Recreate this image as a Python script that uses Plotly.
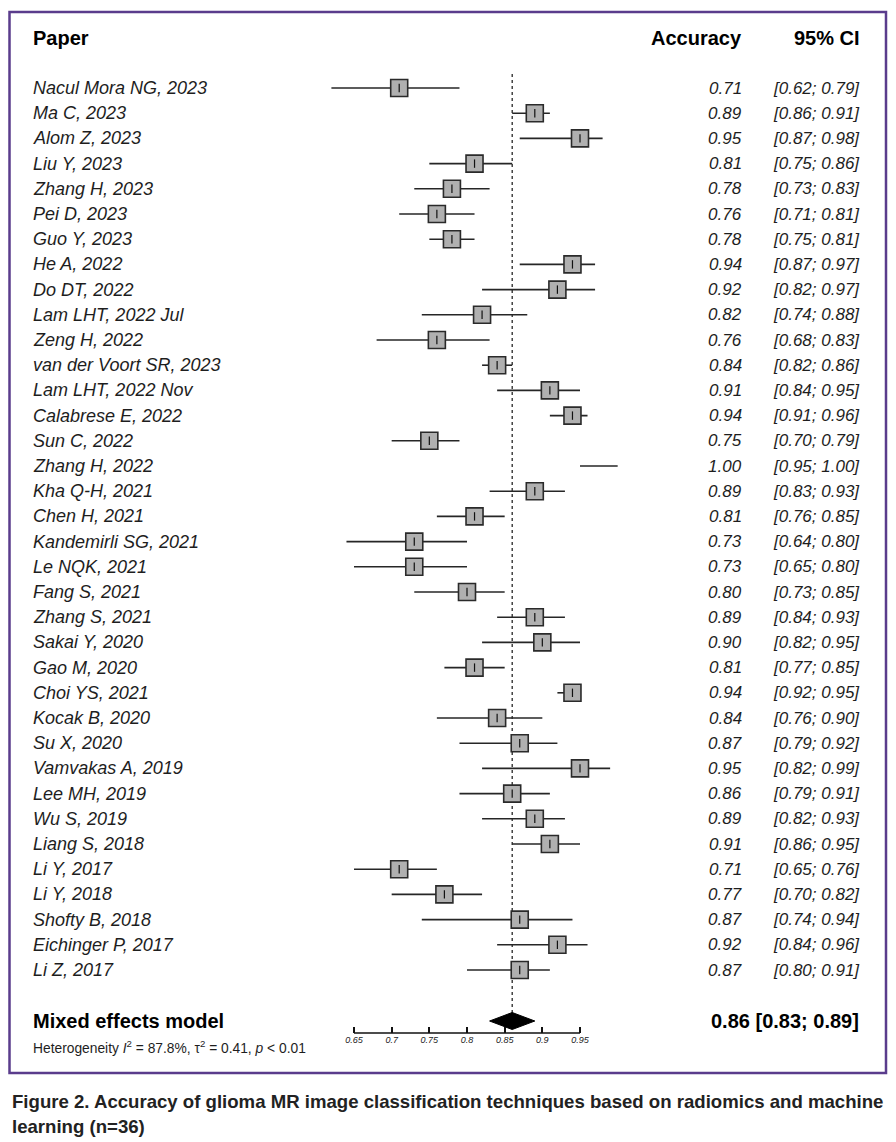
import plotly.graph_objects as go

# ---------------- data ----------------
studies = [
    "Nacul Mora NG, 2023", "Ma C, 2023", "Alom Z, 2023", "Liu Y, 2023", "Zhang H, 2023",
    "Pei D, 2023", "Guo Y, 2023", "He A, 2022", "Do DT, 2022", "Lam LHT, 2022 Jul",
    "Zeng H, 2022", "van der Voort SR, 2023", "Lam LHT, 2022 Nov", "Calabrese E, 2022",
    "Sun C, 2022", "Zhang H, 2022", "Kha Q-H, 2021", "Chen H, 2021", "Kandemirli SG, 2021",
    "Le NQK, 2021", "Fang S, 2021", "Zhang S, 2021", "Sakai Y, 2020", "Gao M, 2020",
    "Choi YS, 2021", "Kocak B, 2020", "Su X, 2020", "Vamvakas A, 2019", "Lee MH, 2019",
    "Wu S, 2019", "Liang S, 2018", "Li Y, 2017", "Li Y, 2018", "Shofty B, 2018",
    "Eichinger P, 2017", "Li Z, 2017",
]
accuracy = [0.71, 0.89, 0.95, 0.81, 0.78, 0.76, 0.78, 0.94, 0.92, 0.82, 0.76, 0.84, 0.91, 0.94,
            0.75, 1.00, 0.89, 0.81, 0.73, 0.73, 0.80, 0.89, 0.90, 0.81, 0.94, 0.84, 0.87, 0.95,
            0.86, 0.89, 0.91, 0.71, 0.77, 0.87, 0.92, 0.87]
ci_low = [0.62, 0.86, 0.87, 0.75, 0.73, 0.71, 0.75, 0.87, 0.82, 0.74, 0.68, 0.82, 0.84, 0.91,
          0.70, 0.95, 0.83, 0.76, 0.64, 0.65, 0.73, 0.84, 0.82, 0.77, 0.92, 0.76, 0.79, 0.82,
          0.79, 0.82, 0.86, 0.65, 0.70, 0.74, 0.84, 0.80]
ci_high = [0.79, 0.91, 0.98, 0.86, 0.83, 0.81, 0.81, 0.97, 0.97, 0.88, 0.83, 0.86, 0.95, 0.96,
           0.79, 1.00, 0.93, 0.85, 0.80, 0.80, 0.85, 0.93, 0.95, 0.85, 0.95, 0.90, 0.92, 0.99,
           0.91, 0.93, 0.95, 0.76, 0.82, 0.94, 0.96, 0.91]
pooled_est, pooled_low, pooled_high = 0.86, 0.83, 0.89
tick_values = [0.65, 0.70, 0.75, 0.80, 0.85, 0.90, 0.95]
tick_labels = ["0.65", "0.7", "0.75", "0.8", "0.85", "0.9", "0.95"]
heterogeneity = "Heterogeneity <i>I</i><sup>2</sup> = 87.8%, τ<sup>2</sup> = 0.41, <i>p</i> < 0.01"
caption_lines = [
    "Figure 2. Accuracy of glioma MR image classification techniques based on radiomics and machine",
    "learning (n=36)",
]

# ---------------- geometry ----------------
W, H = 896, 1142
PX0, PX1 = 354.0, 580.0          # pixel positions of 0.65 and 0.95
ppu = (PX1 - PX0) / 0.30
x_left = 0.65 - PX0 / ppu
x_right = 0.65 + (W - PX0) / ppu
ROW0, ROWH = 88.0, 25.2          # pixel y of first row, row spacing


def row_of(py):
    return (py - ROW0) / ROWH


y_top = row_of(0)
y_bot = row_of(H)
n = len(studies)
rows = list(range(n))

FONT = "Liberation Sans, Arial, sans-serif"
DARK = "#1e1e1e"

fig = go.Figure()

# CI lines
lx, ly = [], []
for i in rows:
    lx += [ci_low[i], ci_high[i], None]
    ly += [i, i, None]
fig.add_trace(go.Scatter(x=lx, y=ly, mode="lines", line=dict(color="#262626", width=1.6),
                         hoverinfo="skip", showlegend=False))

# pooled dotted line
fig.add_trace(go.Scatter(x=[pooled_est, pooled_est], y=[row_of(74), row_of(1013)], mode="lines",
                         line=dict(color="#262626", width=1.3, dash="dot"),
                         hoverinfo="skip", showlegend=False))

# boxes
bx = [accuracy[i] for i in rows if accuracy[i] < 1.0]
by = [i for i in rows if accuracy[i] < 1.0]
fig.add_trace(go.Scatter(x=bx, y=by, mode="markers",
                         marker=dict(symbol="square", size=17, color="#b0b0b0",
                                     line=dict(color="#2a2a2a", width=1.6)),
                         hoverinfo="skip", showlegend=False, cliponaxis=False))
fig.add_trace(go.Scatter(x=bx, y=by, mode="markers",
                         marker=dict(symbol="line-ns", size=6,
                                     line=dict(color="#111111", width=1.2)),
                         hoverinfo="skip", showlegend=False, cliponaxis=False))

# summary diamond
yd = row_of(1021)
hd = 8.5 / ROWH
fig.add_trace(go.Scatter(x=[pooled_low, pooled_est, pooled_high, pooled_est, pooled_low],
                         y=[yd, yd - hd, yd, yd + hd, yd], mode="lines", fill="toself",
                         fillcolor="black", line=dict(color="black", width=1),
                         hoverinfo="skip", showlegend=False))

# axis line
ya = row_of(1033)
fig.add_trace(go.Scatter(x=[tick_values[0], tick_values[-1]], y=[ya, ya], mode="lines",
                         line=dict(color="#111111", width=1.5),
                         hoverinfo="skip", showlegend=False))

ann = []
# header
yh = row_of(38)
ann.append(dict(text="<b>Paper</b>", x=31 / W, xanchor="left", y=yh,
                font=dict(size=20, color="black")))
ann.append(dict(text="<b>Accuracy</b>", x=744 / W, xanchor="right", y=yh,
                font=dict(size=20, color="black")))
ann.append(dict(text="<b>95% CI</b>", x=862 / W, xanchor="right", y=yh,
                font=dict(size=20, color="black")))

for i in rows:
    ann.append(dict(text=studies[i], x=31 / W, xanchor="left", y=i,
                    font=dict(size=18, color=DARK, style="italic")))
    ann.append(dict(text=f"{accuracy[i]:.2f}", x=744 / W, xanchor="right", y=i,
                    font=dict(size=17, color=DARK, style="italic")))
    ann.append(dict(text=f"[{ci_low[i]:.2f}; {ci_high[i]:.2f}]", x=862 / W, xanchor="right", y=i,
                    font=dict(size=17, color=DARK, style="italic")))

ann.append(dict(text="<b>Mixed effects model</b>", x=31 / W, xanchor="left", y=yd,
                font=dict(size=20, color="black")))
ann.append(dict(text=f"<b>{pooled_est:.2f} [{pooled_low:.2f}; {pooled_high:.2f}]</b>",
                x=861 / W, xanchor="right", y=yd, font=dict(size=20, color="black")))
ann.append(dict(text=heterogeneity, x=31 / W, xanchor="left", y=row_of(1047),
                font=dict(size=13.8, color=DARK)))

for k, line in enumerate(caption_lines):
    ann.append(dict(text=f"<b>{line}</b>", x=10 / W, xanchor="left", y=row_of(1101 + 25 * k),
                    font=dict(size=18.6, color="#222222")))

for a in ann:
    a.update(xref="paper", yref="y", showarrow=False, yanchor="middle")

fig.update_layout(
    width=W, height=H,
    margin=dict(l=0, r=0, t=0, b=0),
    paper_bgcolor="white", plot_bgcolor="white",
    font=dict(family=FONT, color=DARK),
    annotations=ann,
    shapes=[dict(type="rect", xref="paper", yref="paper",
                 x0=9.5 / W, x1=886 / W, y0=1 - 1073 / H, y1=1 - 12 / H,
                 line=dict(color="#5a3c8c", width=2.5), fillcolor="rgba(0,0,0,0)", layer="above")],
    xaxis=dict(range=[x_left, x_right], domain=[0, 1], showgrid=False, zeroline=False,
               showline=False, tickmode="array", tickvals=tick_values, ticktext=tick_labels,
               ticks="inside", ticklen=6, tickwidth=1.5, tickcolor="#111111",
               anchor="free", position=1 - 1033 / H,
               tickfont=dict(size=9, color="#222222", style="italic"), fixedrange=True),
    yaxis=dict(range=[y_bot, y_top], domain=[0, 1], visible=False, fixedrange=True),
)

fig.write_html("out.html", config={"displayModeBar": False},
               post_script="document.body.style.margin='0px';document.body.style.overflow='hidden';")
